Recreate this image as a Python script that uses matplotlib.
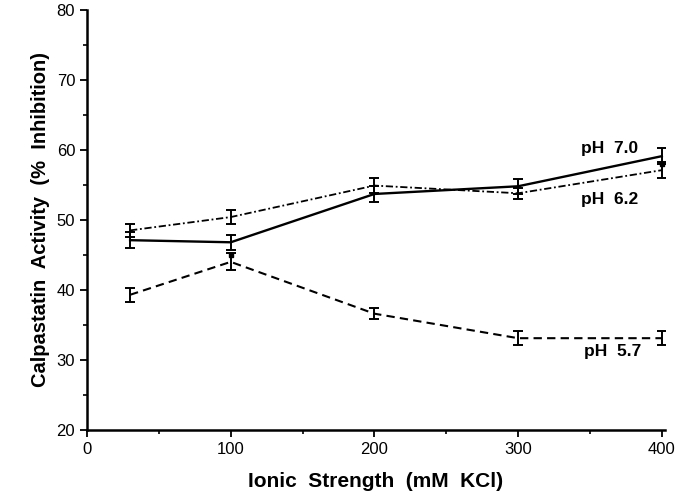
import matplotlib
matplotlib.use("Agg")
import matplotlib.pyplot as plt
from matplotlib.ticker import MultipleLocator

x = [30, 100, 200, 300, 400]
ph70 = [47.1, 46.8, 53.7, 54.8, 59.1]
ph70_err = [1.1, 1.1, 1.1, 1.1, 1.1]
ph62 = [48.5, 50.4, 54.9, 53.8, 57.1]
ph62_err = [0.9, 1.0, 1.1, 0.8, 1.1]
ph57 = [39.3, 44.0, 36.6, 33.1, 33.1]
ph57_err = [1.0, 1.2, 0.8, 1.0, 1.0]
xticks = [0, 100, 200, 300, 400]
yticks = [20, 30, 40, 50, 60, 70, 80]

plt.rcParams['font.family'] = ['Liberation Sans', 'DejaVu Sans']
fig = plt.figure(figsize=(6.96, 4.93), dpi=100)
ax = fig.add_axes([0.125, 0.128, 0.83, 0.852])

ekw = dict(color='black', capsize=3.5, elinewidth=1.4, capthick=1.4)
ax.errorbar(x, ph70, yerr=ph70_err, linestyle='-', linewidth=1.7, **ekw)
ax.errorbar(x, ph62, yerr=ph62_err, linestyle=(0, (4, 1.5, 1, 1.5)), linewidth=1.3, **ekw)
ax.errorbar(x, ph57, yerr=ph57_err, linestyle=(0, (4, 2.5)), linewidth=1.5, **ekw)
ax.plot([400], [58.0], marker='s', color='black', markersize=3.5, linestyle='none')
ax.plot([100], [45.0], marker='s', color='black', markersize=3.5, linestyle='none')

lab_kw = dict(fontsize=12.5, fontweight='bold', va='center', ha='left')
ax.text(344, 60.2, 'pH  7.0', **lab_kw)
ax.text(344, 52.9, 'pH  6.2', **lab_kw)
ax.text(346, 31.2, 'pH  5.7', **lab_kw)

ax.set_xlim(0, 402)
ax.set_ylim(20, 80)
ax.set_xticks(xticks)
ax.set_yticks(yticks)
ax.xaxis.set_minor_locator(MultipleLocator(50))
ax.yaxis.set_minor_locator(MultipleLocator(5))
for s in ['top', 'right']:
    ax.spines[s].set_visible(False)
for s in ['left', 'bottom']:
    ax.spines[s].set_linewidth(1.8)
ax.tick_params(which='major', direction='out', length=5, width=1.3, labelsize=12)
ax.tick_params(which='minor', direction='out', length=3, width=1.2)
ax.set_xlabel('Ionic  Strength  (mM  KCl)', fontsize=15, fontweight='bold', labelpad=11)
ax.set_ylabel('Calpastatin  Activity  (%  Inhibition)', fontsize=14.5, fontweight='bold', labelpad=5)

fig.savefig('out.png', dpi=100)
